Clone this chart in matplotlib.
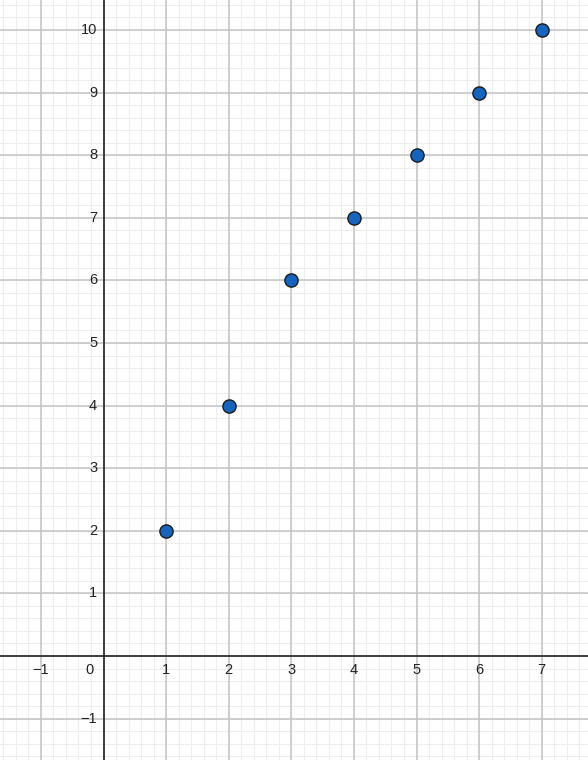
import matplotlib.pyplot as plt
import numpy as np

# puntos
x = [1, 2, 3, 4, 5, 6, 7]
y = [2, 4, 6, 7, 8, 9, 10]

xticks = [-1, 1, 2, 3, 4, 5, 6, 7]
yticks = [-1, 1, 2, 3, 4, 5, 6, 7, 8, 9, 10]

unit = 62.6  # px por unidad
fig = plt.figure(figsize=(5.88, 7.6), dpi=100)
ax = fig.add_axes([0, 0, 1, 1])
x0, y0 = 103.5, 656
ax.set_xlim(-x0 / unit, (588 - x0) / unit)
ax.set_ylim(-(760 - y0) / unit, y0 / unit)

# cuadricula
for v in np.arange(-2, 8.01, 0.2):
    ax.axvline(v, color='#ededed', lw=0.8, zorder=0)
for v in np.arange(-2, 11.01, 0.2):
    ax.axhline(v, color='#ededed', lw=0.8, zorder=0)
for v in range(-2, 9):
    ax.axvline(v, color='#c4c4c4', lw=1.1, zorder=1)
for v in range(-2, 12):
    ax.axhline(v, color='#c4c4c4', lw=1.1, zorder=1)

ax.axhline(0, color='#252525', lw=1.2, zorder=2)
ax.axvline(0, color='#252525', lw=1.2, zorder=2)

ax.set_xticks([])
ax.set_yticks([])
for s in ax.spines.values():
    s.set_visible(False)

font = dict(fontsize=10.5, family='Liberation Sans', color='#222222')
for t in xticks:
    ax.text(t, -0.23, str(t).replace('-', '\u2212'), ha='center', va='center', **font)
for t in yticks:
    ax.text(-0.1, t, str(t).replace('-', '\u2212'), ha='right', va='center', **font)
ax.text(-0.22, -0.23, '0', ha='center', va='center', **font)

ax.plot(x, y, 'o', color='#1565c0', markeredgecolor='#1a1a1a',
        markeredgewidth=1.0, markersize=9.5, zorder=5)

plt.savefig('out.png', dpi=100)
